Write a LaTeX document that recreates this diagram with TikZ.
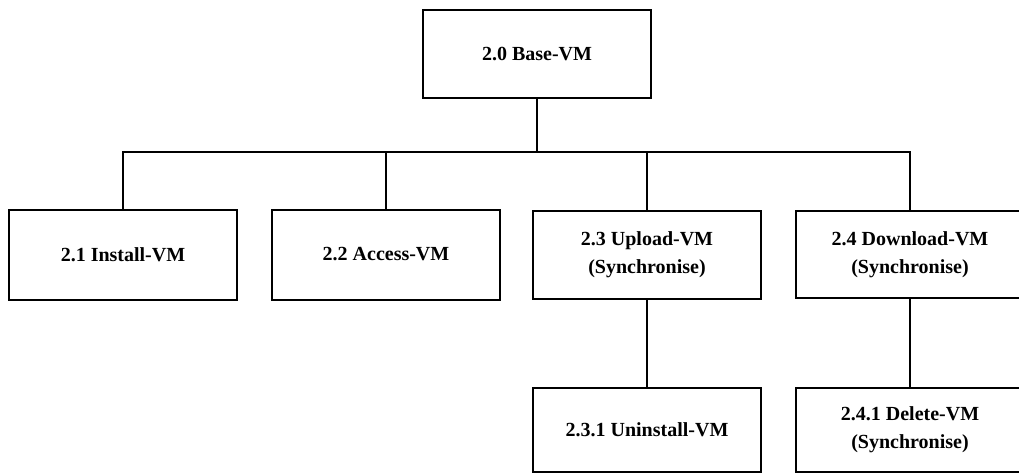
\documentclass[tikz,border=0pt]{standalone}
\usepackage{fontspec}
\setmainfont{Liberation Serif}
\begin{document}
\begin{tikzpicture}[x=1pt,y=1pt,
  box/.style={draw, line width=2pt, minimum width=228pt, inner sep=0pt, outer sep=0pt,
    align=center, font=\fontsize{20}{28}\selectfont\bfseries},
  conn/.style={line width=2pt, line join=miter}]
\useasboundingbox (0,0) rectangle (1019,-473);
\clip (0,0) rectangle (1019,-473);
\node[box, minimum height=88pt] (base) at (537,-54) {2.0 Base-VM};
\node[box, minimum height=90pt] (n21) at (123,-254.5) {2.1 Install-VM};
\node[box, minimum height=90pt] (n22) at (386,-254.5) {2.2 Access-VM};
\node[box, minimum height=88pt] (n23) at (647,-255) {2.3 Upload-VM\\(Synchronise)};
\node[box, minimum height=87pt] (n24) at (910,-254.5) {2.4 Download-VM\\(Synchronise)};
\node[box, minimum height=84pt] (n231) at (647,-430) {2.3.1 Uninstall-VM};
\node[box, minimum height=84pt] (n241) at (910,-430) {2.4.1 Delete-VM\\(Synchronise)};
\coordinate (bus) at (0,-152);
\draw[conn] (base.south) -- (base.south |- bus);
\draw[conn] (n21.north) -- (n21.north |- bus) -- (n24.north |- bus) -- (n24.north);
\draw[conn] (n22.north) -- (n22.north |- bus);
\draw[conn] (n23.north) -- (n23.north |- bus);
\draw[conn] (n23.south) -- (n231.north);
\draw[conn] (n24.south) -- (n241.north);
\end{tikzpicture}
\end{document}
